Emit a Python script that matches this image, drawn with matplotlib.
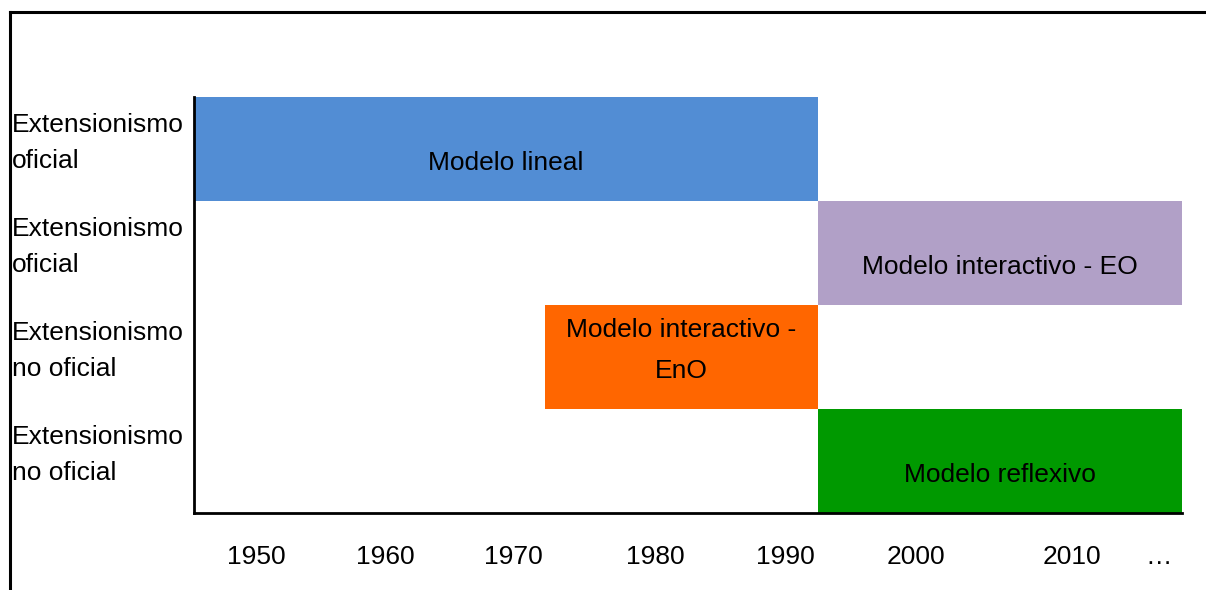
import matplotlib.pyplot as plt
from matplotlib.lines import Line2D
import matplotlib.transforms as mtransforms

# datos de la linea de tiempo
filas = ['Extensionismo\noficial', 'Extensionismo\noficial',
         'Extensionismo\nno oficial', 'Extensionismo\nno oficial']
modelos = ['Modelo lineal', 'Modelo interactivo - EO',
           'Modelo interactivo -\nEnO', 'Modelo reflexivo']
inicio = [1945, 1993, 1972, 1993]
fin = [1993, 2021, 1993, 2021]
colores = ['#528DD4', '#B1A0C7', '#FF6600', '#009900']

anios = ['1950', '1960', '1970', '1980', '1990', '2000', '2010', '\u2026']
pos_anios = [1949.8, 1959.7, 1969.6, 1980.5, 1990.5, 2000.5, 2012.5, 2019.2]

plt.rcParams['font.family'] = ['Liberation Sans Narrow', 'Liberation Sans', 'DejaVu Sans']
fs = 19

fig = plt.figure(figsize=(12.06, 5.9), dpi=100)
ax = fig.add_axes([194 / 1206, 1 - 513 / 590, (1182 - 194) / 1206, (513 - 97) / 590])

for i in range(len(modelos)):
    ax.barh(i, fin[i] - inicio[i], left=inicio[i], height=1.0,
            color=colores[i], edgecolor='none')
    ax.text((inicio[i] + fin[i]) / 2, i + 0.5 - 0.25, modelos[i],
            ha='center', va='bottom', multialignment='center', fontsize=fs,
            linespacing=1.9)

ax.set_xlim(1945, 2021)
ax.set_ylim(3.5, -0.5)
ax.set_yticks([])
ax.set_xticks(pos_anios)
ax.set_xticklabels(anios, fontsize=fs)
ax.tick_params(axis='x', length=0, pad=23)
for s in ['top', 'right']:
    ax.spines[s].set_visible(False)
ax.spines['left'].set_linewidth(2)
ax.spines['bottom'].set_linewidth(2)

# etiquetas de filas a la izquierda
trans = mtransforms.blended_transform_factory(fig.transFigure, ax.transData)
off = mtransforms.ScaledTranslation(0, 6 / 100, fig.dpi_scale_trans)
for i, f in enumerate(filas):
    fig.text(12 / 1206, i, f, ha='left', va='center', fontsize=fs,
             transform=trans + off, linespacing=1.65)

# marco exterior
fig.add_artist(Line2D([10 / 1206, 10 / 1206], [0, 1 - 12 / 590],
                      transform=fig.transFigure, color='black', lw=2.2))
fig.add_artist(Line2D([10 / 1206, 1], [1 - 12 / 590, 1 - 12 / 590],
                      transform=fig.transFigure, color='black', lw=2.2))

fig.savefig('out.png', dpi=100)
